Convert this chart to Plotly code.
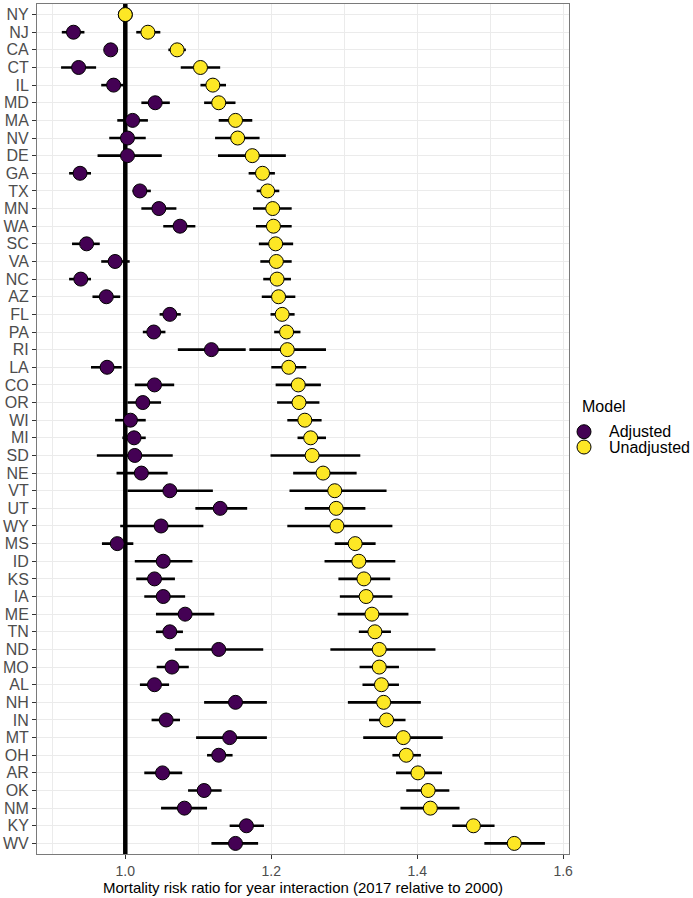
import plotly.graph_objects as go

states = ["NY","NJ","CA","CT","IL","MD","MA","NV","DE","GA","TX","MN","WA","SC","VA","NC",
          "AZ","FL","PA","RI","LA","CO","OR","WI","MI","SD","NE","VT","UT","WY","MS","ID",
          "KS","IA","ME","TN","ND","MO","AL","NH","IN","MT","OH","AR","OK","NM","KY","WV"]

adj_est = [1.000,0.929,0.980,0.936,0.984,1.041,1.010,1.003,1.003,0.938,1.020,1.046,1.075,0.947,0.986,0.939,
           0.974,1.061,1.039,1.118,0.975,1.040,1.024,1.007,1.012,1.013,1.022,1.061,1.130,1.049,0.989,1.052,
           1.040,1.052,1.082,1.061,1.128,1.064,1.040,1.151,1.056,1.143,1.128,1.051,1.108,1.081,1.166,1.151]
adj_lo = [1.000,0.913,0.971,0.912,0.967,1.022,0.989,0.978,0.962,0.923,1.010,1.022,1.052,0.927,0.967,0.923,
          0.955,1.047,1.024,1.072,0.953,1.013,1.003,0.986,0.996,0.961,0.988,1.003,1.096,0.993,0.968,1.013,
          1.015,1.026,1.042,1.042,1.068,1.043,1.020,1.108,1.036,1.097,1.112,1.026,1.086,1.049,1.143,1.118]
adj_hi = [1.000,0.944,0.989,0.960,0.998,1.061,1.031,1.028,1.050,0.953,1.035,1.070,1.096,0.965,1.006,0.953,
          0.993,1.076,1.055,1.165,0.995,1.067,1.049,1.028,1.028,1.065,1.058,1.120,1.167,1.107,1.011,1.092,
          1.068,1.082,1.122,1.079,1.189,1.087,1.060,1.194,1.075,1.194,1.147,1.078,1.132,1.112,1.190,1.182]

unadj_est = [1.000,1.031,1.071,1.103,1.120,1.128,1.151,1.154,1.174,1.188,1.195,1.202,1.203,1.206,1.207,1.208,
             1.210,1.215,1.221,1.222,1.224,1.237,1.238,1.246,1.254,1.256,1.271,1.287,1.289,1.290,1.315,1.320,
             1.327,1.330,1.338,1.342,1.348,1.348,1.351,1.354,1.358,1.381,1.385,1.401,1.415,1.418,1.477,1.533]
unadj_lo = [1.000,1.015,1.059,1.076,1.103,1.108,1.128,1.123,1.127,1.169,1.180,1.175,1.179,1.183,1.185,1.189,
            1.187,1.199,1.204,1.170,1.200,1.206,1.208,1.222,1.236,1.199,1.230,1.225,1.246,1.222,1.287,1.273,
            1.292,1.294,1.291,1.320,1.281,1.321,1.325,1.305,1.334,1.326,1.366,1.371,1.385,1.377,1.448,1.492]
unadj_hi = [1.000,1.048,1.083,1.130,1.138,1.151,1.174,1.184,1.220,1.205,1.211,1.228,1.228,1.230,1.228,1.227,
            1.233,1.232,1.240,1.275,1.248,1.268,1.266,1.269,1.275,1.322,1.317,1.358,1.329,1.366,1.343,1.370,
            1.363,1.366,1.388,1.364,1.425,1.375,1.375,1.405,1.384,1.435,1.405,1.434,1.444,1.458,1.506,1.575]

reference_value = 1.0
models = ["Adjusted", "Unadjusted"]
colors = ["#440154", "#FDE725"]
legend_title = "Model"
FONT = "Liberation Sans, Arial, sans-serif"

series = [(adj_est, adj_lo, adj_hi), (unadj_est, unadj_lo, unadj_hi)]
ypos = list(range(len(states)))
n = len(states)

fig = go.Figure()

# reference line at RR = 1 (under everything else)
fig.add_trace(go.Scatter(
    x=[reference_value, reference_value], y=[-1, n], mode="lines",
    line=dict(color="black", width=4.5), showlegend=False, hoverinfo="skip"))

# error bars (under all points)
for (est, lo, hi), name in zip(series, models):
    fig.add_trace(go.Scatter(
        x=est, y=ypos, mode="markers",
        marker=dict(size=1, color="rgba(0,0,0,0)"),
        error_x=dict(type="data", symmetric=False,
                     array=[h - e for h, e in zip(hi, est)],
                     arrayminus=[e - l for e, l in zip(est, lo)],
                     color="black", thickness=2.6, width=0),
        showlegend=False, hoverinfo="skip", name=name))

for (est, lo, hi), name, col in zip(series, models, colors):
    fig.add_trace(go.Scatter(
        x=est, y=ypos, mode="markers", name=name, showlegend=False,
        text=states, hovertemplate="%{text}: %{x:.3f}<extra>" + name + "</extra>",
        marker=dict(size=14, color=col, line=dict(color="black", width=1))))

# ggplot-style legend placed in the right margin (compact key spacing)
leg_x_key = 1.0282
leg_x_text = 1.0709
leg_y_title = 0.5262
leg_y0 = 0.4968
leg_dy = 0.0180
annotations = [dict(text=legend_title, xref="paper", yref="paper",
                    x=1.0207, y=leg_y_title, xanchor="left", yanchor="middle",
                    showarrow=False, font=dict(size=16, color="black", family=FONT))]
shapes = []
for i, (name, col) in enumerate(zip(models, colors)):
    yy = leg_y0 - i * leg_dy
    shapes.append(dict(type="circle", xref="paper", yref="paper",
                       xsizemode="pixel", ysizemode="pixel",
                       xanchor=leg_x_key, yanchor=yy, x0=-7, x1=7, y0=-7, y1=7,
                       fillcolor=col, line=dict(color="black", width=1), layer="above"))
    annotations.append(dict(text=name, xref="paper", yref="paper",
                            x=leg_x_text, y=yy, xanchor="left", yanchor="middle",
                            showarrow=False, font=dict(size=16, color="black", family=FONT)))

fig.update_layout(
    width=693, height=898, autosize=False,
    margin=dict(l=37, r=124, t=4, b=44),
    paper_bgcolor="white", plot_bgcolor="white",
    font=dict(family=FONT, color="black"),
    showlegend=False,
    annotations=annotations,
    shapes=shapes,
)

fig.update_xaxes(
    range=[0.879, 1.608],
    tickvals=[1.0, 1.2, 1.4, 1.6], ticktext=["1.0", "1.2", "1.4", "1.6"],
    showgrid=True, gridcolor="#EBEBEB", gridwidth=1,
    minor=dict(tickvals=[0.9, 1.1, 1.3, 1.5], showgrid=True, gridcolor="#EBEBEB", gridwidth=0.6),
    zeroline=False, showline=True, mirror=True, linecolor="#7A7A7A", linewidth=1,
    ticks="outside", ticklen=4, tickcolor="#333333", tickwidth=1,
    tickfont=dict(size=14, color="#4D4D4D", family=FONT),
    title=dict(text="Mortality risk ratio for year interaction (2017 relative to 2000)",
               font=dict(size=15, color="black", family=FONT), standoff=2),
    automargin=False,
)

fig.update_yaxes(
    range=[n - 1 + 0.6, -0.6],
    tickvals=ypos, ticktext=states,
    showgrid=True, gridcolor="#EBEBEB", gridwidth=1,
    zeroline=False, showline=True, mirror=True, linecolor="#7A7A7A", linewidth=1,
    ticks="outside", ticklen=4, tickcolor="#333333", tickwidth=1,
    tickfont=dict(size=16, color="#4D4D4D", family=FONT),
    automargin=False,
)

fig.write_html("out.html", config={"displayModeBar": False},
               post_script="document.body.style.margin='0px';")
